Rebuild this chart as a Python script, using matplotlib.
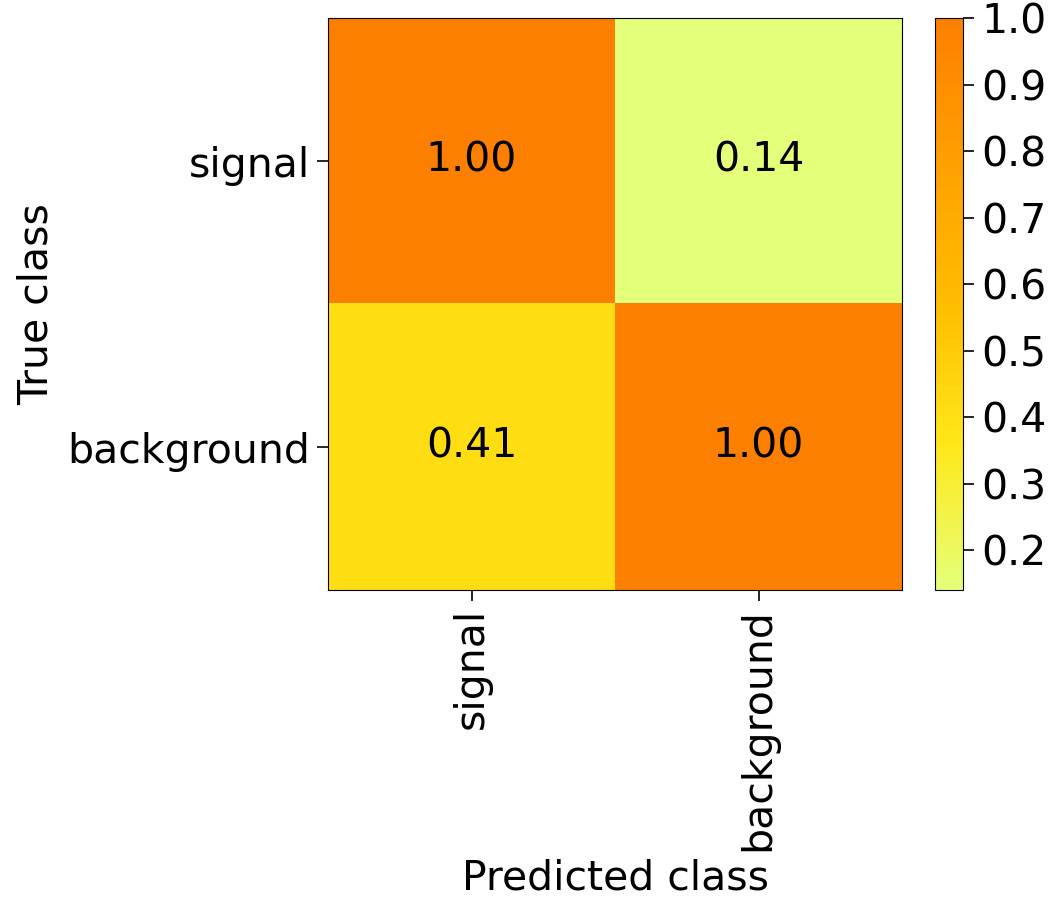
import numpy as np
import matplotlib.pyplot as plt

CLASSES = ["signal", "background"]
# rows: true class, columns: predicted class (normalised)
MATRIX = [
    [1.00, 0.14],
    [0.41, 1.00],
]
CBAR_TICKS = [0.2, 0.3, 0.4, 0.5, 0.6, 0.7, 0.8, 0.9, 1.0]

FS = 29.5

fig = plt.figure(figsize=(10.53, 9.0), dpi=100)
W, H = 1053, 900
ax = fig.add_axes([328 / W, (H - 590) / H, 574 / W, 572 / H])
cax = fig.add_axes([935 / W, (H - 590) / H, 28 / W, 572 / H])

cm = np.array(MATRIX)
im = ax.imshow(cm, interpolation="nearest", cmap="Wistia", aspect="auto")

ticks = np.arange(len(CLASSES))
ax.set_xticks(ticks)
ax.set_yticks(ticks)
ax.set_xticklabels(CLASSES, rotation=90, fontsize=FS)
ax.set_yticklabels(CLASSES, fontsize=FS)
ax.tick_params(length=8, pad=5, width=1.2)

for i in range(cm.shape[0]):
    for j in range(cm.shape[1]):
        ax.text(j, i, f"{cm[i, j]:.2f}", ha="center", va="center",
                fontsize=FS, color="black")

ax.set_ylabel("True class", fontsize=FS)
ax.yaxis.set_label_coords(-0.472, 0.5)
ax.set_xlabel("Predicted class", fontsize=FS)
ax.xaxis.set_label_coords(0.5, -0.47)

cb = fig.colorbar(im, cax=cax)
cb.set_ticks(CBAR_TICKS)
cb.ax.tick_params(labelsize=FS, length=8, pad=5, width=1.2)

fig.savefig("out.png", dpi=100)
